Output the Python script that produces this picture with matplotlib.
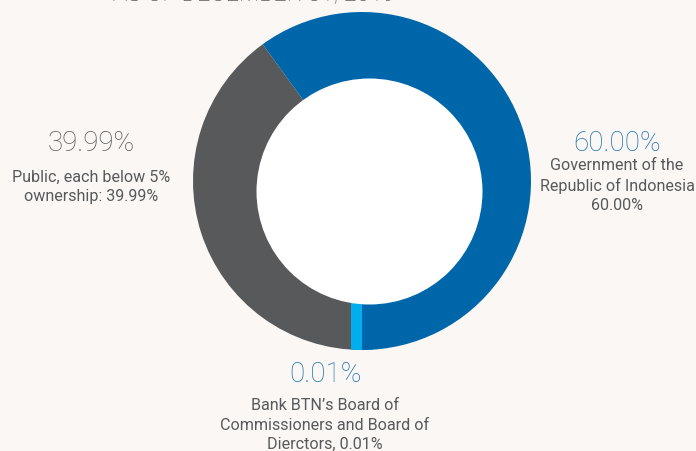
import matplotlib
matplotlib.use("Agg")
import matplotlib.pyplot as plt
from matplotlib.patches import Circle

# Shareholder composition
holders = [
    "Government of the\nRepublic of Indonesia\n60.00%",
    "Bank BTN\u2019s Board of\nCommissioners and Board of\nDierctors, 0.01%",
    "Public, each below 5%\nownership: 39.99%",
]
shares = [60.00, 0.01, 39.99]
pct_labels = ["60.00%", "0.01%", "39.99%"]
colors = ["#0066AA", "#00AEEF", "#58595B"]
label_colors = ["#1C72B4", "#1C72B4", "#58595B"]

BG = "#FAF7F4"
TEXT = "#58595B"

plt.rcParams["font.family"] = ["Roboto", "DejaVu Sans"]

fig = plt.figure(figsize=(6.96, 4.52), dpi=100, facecolor=BG)
ax = fig.add_axes([0, 0, 1, 1])
ax.set_facecolor(BG)

cx, cy, r = 362, 270, 169
wedges, _ = ax.pie(
    shares,
    colors=colors,
    startangle=126,
    counterclock=False,
    center=(cx, cy),
    radius=r,
    wedgeprops=dict(linewidth=0),
)
# keep the tiny slice visible with a stroke of its own colour, clipped to the ring
wedges[0].set_zorder(3)
wedges[1].set_zorder(2.5)
wedges[2].set_zorder(2)
ring = Circle((cx, cy), r)
wedges[1].set_edgecolor(colors[1])
wedges[1].set_linewidth(15.5)
wedges[1].set_joinstyle("miter")
wedges[1].set_clip_on(True)
wedges[1].set_clip_path(ring.get_path(), ring.get_patch_transform() + ax.transData)

# donut hole
ax.add_patch(Circle((369.5, 259.5), 113, facecolor="white", edgecolor="none", zorder=4))

ax.set_xlim(0, 696)
ax.set_ylim(0, 452)
ax.set_aspect("equal")
ax.axis("off")

# heading (runs off the top edge)
ax.text(254, 450.5, "AS OF DECEMBER 31, 2019", ha="center", va="baseline",
        fontsize=17, color=TEXT, fontweight="light")

# label anchors: (x, percentage baseline, baseline of last description line)
anchors = [(617, 301, 242), (325, 70, 3.0), (91, 301, 251)]
for (x, yp, yd), pct, desc, lc in zip(anchors, pct_labels, holders, label_colors):
    ax.text(x, yp, pct, ha="center", va="baseline", fontsize=20,
            color=lc, fontweight="light")
    ax.text(x, yd, desc, ha="center", va="baseline", fontsize=11.6,
            color=TEXT, linespacing=1.36, fontweight="normal")

fig.savefig("out.png", dpi=100, facecolor=BG)
